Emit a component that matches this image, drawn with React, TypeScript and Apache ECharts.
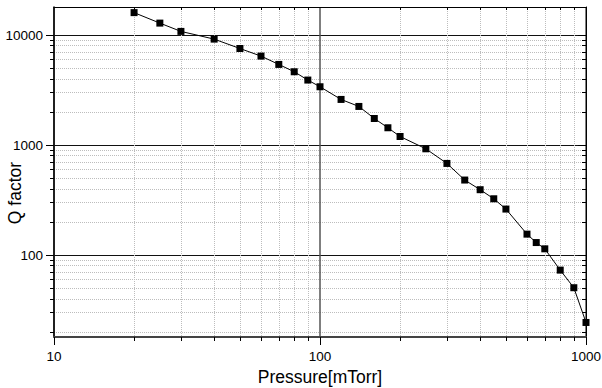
import React, { useEffect, useRef } from "react";
import * as echarts from "echarts";

const pressure = [20, 25, 30, 40, 50, 60, 70, 80, 90, 100, 120, 140, 160, 180, 200, 250, 300, 350, 400, 450, 500, 600, 650, 700, 800, 900, 1000];
const qFactor = [16000, 12850, 10800, 9190, 7550, 6440, 5410, 4640, 3900, 3390, 2600, 2245, 1745, 1437, 1197, 925, 681, 481, 393, 325, 262, 155, 130, 114, 73, 50.5, 24.4];

const xMajor = [10, 100, 1000];
const xMinor = [20, 30, 40, 50, 60, 70, 80, 90, 200, 300, 400, 500, 600, 700, 800, 900];
const yMajor = [100, 1000, 10000];
const yMinor = [20, 30, 40, 50, 60, 70, 80, 90, 200, 300, 400, 500, 600, 700, 800, 900, 2000, 3000, 4000, 5000, 6000, 7000, 8000, 9000];

const xTitle = "Pressure[mTorr]";
const yTitle = "Q factor";

const FONT = "Liberation Sans";

export default function App() {
  const ref = useRef<HTMLDivElement>(null);
  useEffect(() => {
    if (!ref.current) return;
    const chart = echarts.init(ref.current, undefined, { renderer: "svg" });
    const xBase = { type: "log" as const, logBase: 10, min: 10, max: 1000, gridIndex: 0 };
    const yBase = { type: "log" as const, logBase: 10, min: 18, max: 18000, gridIndex: 0 };
    const minorGrid = { show: true, lineStyle: { color: "#bdbdbd", width: 1, type: [1, 1] as any } };
    const fmt = (v: number) => String(Math.round(v));
    const option: any = {
      animation: false,
      backgroundColor: "#fff",
      grid: { left: 54, top: 7, width: 532, height: 330, containLabel: false, outerBoundsMode: "none" },
      graphic: [
        {
          type: "text",
          x: 15,
          y: 193,
          rotation: Math.PI / 2,
          style: {
            text: yTitle,
            fontFamily: FONT,
            fontSize: 17.5,
            fill: "#000",
            align: "center",
            verticalAlign: "middle",
          },
        },
      ],
      xAxis: [
        {
          ...xBase,
          position: "bottom",
          axisLine: { show: true, onZero: false, lineStyle: { color: "#444", width: 2 } },
          axisTick: { show: true, inside: false, length: 8, customValues: xMajor, lineStyle: { color: "#000", width: 1 } },
          axisLabel: { show: true, customValues: xMajor, formatter: fmt, margin: 12, fontFamily: FONT, fontSize: 13.5, color: "#000" },
          splitLine: { show: true, lineStyle: { color: "#555", width: 1.5 } },
          name: xTitle,
          nameLocation: "middle",
          nameGap: 24,
          nameTextStyle: { fontFamily: FONT, fontSize: 17.5, color: "#000" },
        },
        {
          ...xBase,
          position: "bottom",
          axisLine: { show: false, onZero: false },
          axisTick: { show: true, inside: false, length: 4, customValues: xMinor, lineStyle: { color: "#000", width: 1 } },
          axisLabel: { show: false },
          splitLine: minorGrid,
        },
        {
          ...xBase,
          position: "top",
          axisLine: { show: true, onZero: false, lineStyle: { color: "#000", width: 1 } },
          axisTick: { show: true, inside: true, length: 3, customValues: xMinor, lineStyle: { color: "#000", width: 1 } },
          axisLabel: { show: false },
          splitLine: { show: false },
        },
      ],
      yAxis: [
        {
          ...yBase,
          position: "left",
          axisLine: { show: true, onZero: false, lineStyle: { color: "#000", width: 1.5 } },
          axisTick: { show: true, inside: false, length: 8, customValues: yMajor, lineStyle: { color: "#000", width: 1 } },
          axisLabel: { show: true, customValues: yMajor, formatter: fmt, margin: 11, fontFamily: FONT, fontSize: 13.5, color: "#000" },
          splitLine: { show: true, lineStyle: { color: "#111", width: 1 } },
        },
        {
          ...yBase,
          position: "left",
          axisLine: { show: false, onZero: false },
          axisTick: { show: true, inside: false, length: 4, customValues: yMinor, lineStyle: { color: "#000", width: 1 } },
          axisLabel: { show: false },
          splitLine: minorGrid,
        },
        {
          ...yBase,
          position: "right",
          axisLine: { show: true, onZero: false, lineStyle: { color: "#000", width: 1 } },
          axisTick: { show: true, inside: true, length: 4, customValues: yMinor, lineStyle: { color: "#000", width: 1 } },
          axisLabel: { show: false },
          splitLine: { show: false },
        },
        {
          ...yBase,
          position: "right",
          axisLine: { show: false, onZero: false },
          axisTick: { show: true, inside: true, length: 8, customValues: yMajor, lineStyle: { color: "#000", width: 1 } },
          axisLabel: { show: false },
          splitLine: { show: false },
        },
      ],
      series: [
        {
          type: "line",
          xAxisIndex: 0,
          yAxisIndex: 0,
          data: pressure.map((p, i) => [p, qFactor[i]]),
          symbol: "rect",
          symbolSize: 7,
          itemStyle: { color: "#000" },
          lineStyle: { color: "#000", width: 1 },
          z: 5,
        },
      ],
    };
    chart.setOption(option);
    return () => chart.dispose();
  }, []);
  return <div ref={ref} style={{ position: "fixed", left: 0, top: 0, width: 602, height: 388 }} />;
}
